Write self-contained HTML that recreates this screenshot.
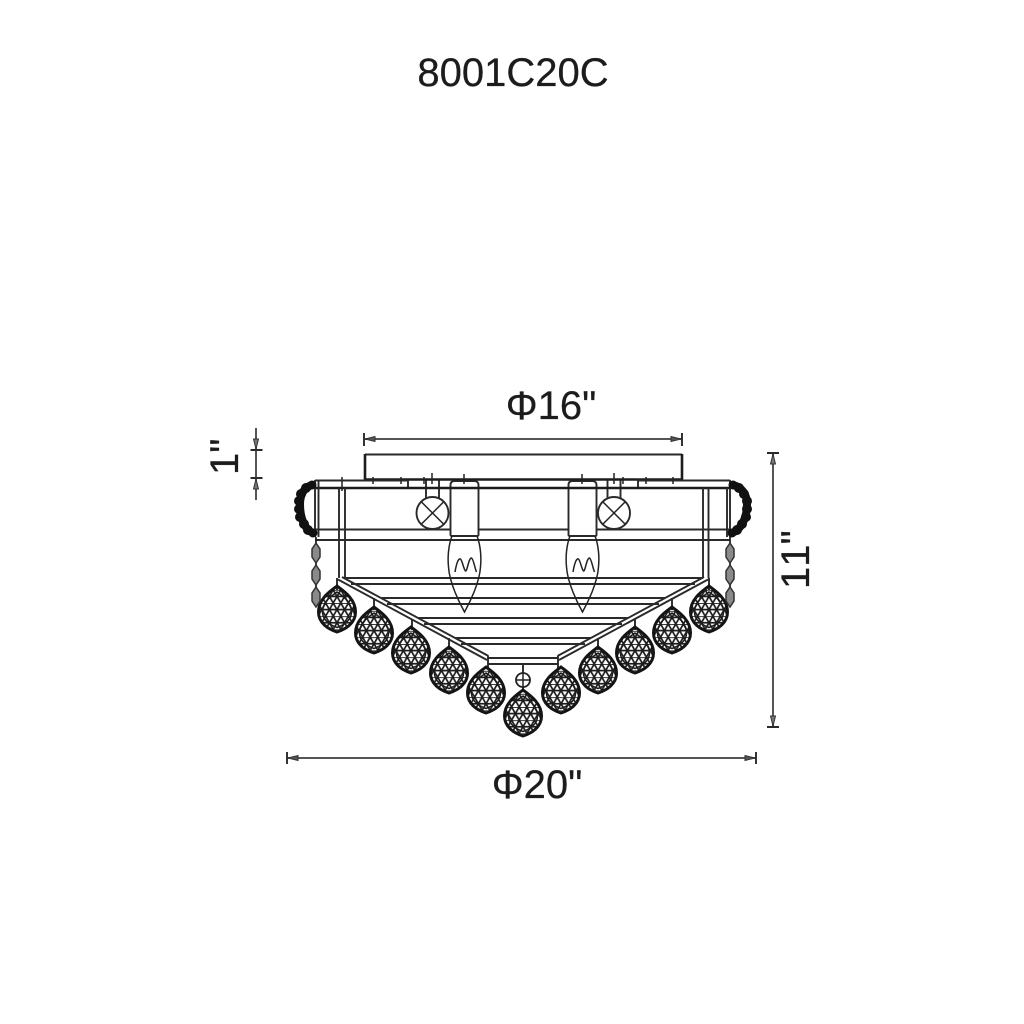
<!DOCTYPE html>
<html><head><meta charset="utf-8"><style>
html,body{margin:0;padding:0;background:#fff}
svg{display:block}
text{font-family:"Liberation Sans",sans-serif;font-size:40px;fill:#1c1c1c;font-kerning:none;stroke:#1c1c1c;stroke-width:.25}
.l{stroke:#2a2a2a;stroke-width:1.9;fill:none}
.t{stroke:#1c1c1c;stroke-width:2.600;fill:none}
.d{stroke:#555;stroke-width:2;fill:none}
.k{stroke:#222;stroke-width:1.500;fill:none}
</style></head><body>
<svg width="1024" height="1024" viewBox="0 0 1024 1024" xmlns="http://www.w3.org/2000/svg">
<defs>
<pattern id="mesh" patternUnits="userSpaceOnUse" width="7.600" height="13.164" x="-3.800" y="-6">
<path d="M0 0H7.600M0 6.582H7.600M0 0L7.600 13.164M7.600 0L0 13.164" stroke="#1c1c1c" stroke-width="1.700" fill="none"/>
</pattern>
<g id="ball">
<path d="M0-23C5-19 18.500-11 18.500 3C18.500 14 9 20 0 23C-9 20-18.500 14-18.500 3C-18.500-11-5-19 0-23Z" fill="url(#mesh)" stroke="#141414" stroke-width="3"/>
<path d="M0-17C4-14 14.500-8 14.500 3C14.500 11 7 16 0 18.500C-7 16-14.500 11-14.500 3C-14.500-8-4-14 0-17Z" fill="none" stroke="#1c1c1c" stroke-width="1.500"/>
</g>
<g id="dia"><path d="M0-10L4-4V4L0 10L-4 4V-4Z" fill="#8a8a8a" stroke="#333" stroke-width="1.500"/></g>
<g id="lamp">
<circle cx="0" cy="0" r="16" class="l"/>
<path d="M-11-11L11 11M11-11L-11 11" class="k"/>
<path d="M-6.500-33V-15M6.500-33V-15" class="l"/>
</g>
<g id="bulb">
<path d="M-14 0V-50Q-14-54-10-54H10Q14-54 14-50V0Q14 1 12 1H-12Q-14 1-14 0Z" class="l"/>
<path d="M-12.500 1C-16 10-17 22-16 32C-15 48-5 68 0 77C5 68 15 48 16 32C17 22 16 10 12.500 1" class="k"/>
<path d="M-9.500 37C-8 28-6 23-4 24C-2 26-1 34 1 36C3 36 4 23 7 23C9 24 10 32 12 37" class="k"/>
</g>
</defs>

<g style="filter:blur(0.35px)">
<text x="513" y="86" text-anchor="middle">8001C20C</text>
<text x="551" y="419" text-anchor="middle">Φ16"</text>
<text x="537" y="798" text-anchor="middle">Φ20"</text>
<text transform="translate(238,475) rotate(-90)">1"</text>
<text transform="translate(809,589) rotate(-90)">11"</text>

<!-- dimensions -->
<path d="M364 439H682" class="d"/>
<path d="M364 433V446M682 433V446" class="l"/>
<path d="M365 439L375 436.500V441.500Z M681 439L671 436.500V441.500Z" fill="#555" stroke="#333" stroke-width="1"/>
<path d="M256 428V500" class="d"/>
<path d="M250.500 450H262.500M250.500 478H262.500" class="l"/>
<path d="M256 449L253.500 439H258.500Z M256 479L253.500 489H258.500Z" fill="#777" stroke="#333" stroke-width="1"/>
<path d="M773 453V727" class="d"/>
<path d="M767 453H779M767 727H779" class="l"/>
<path d="M773 454L770.500 464H775.500Z M773 726L770.500 716H775.500Z" fill="#777" stroke="#333" stroke-width="1"/>
<path d="M287 758H756" class="d"/>
<path d="M287 752V764M756 752V764" class="l"/>
<path d="M288 758L298 755.500V760.500Z M755 758L745 755.500V760.500Z" fill="#555" stroke="#333" stroke-width="1"/>

<!-- horizontal rings -->
<path d="M315 529.500H730M315 540H730" class="l"/>
<path d="M345 578H703M351 584H695" class="l"/>
<path d="M381 598H665M387 604H659" class="l"/>
<path d="M418 618H628M424 624H622" class="l"/>
<path d="M455 638H591M461 644H585" class="l"/>
<path d="M488 658H558M488 664H558" class="l"/>

<!-- lamps and bulbs -->
<use href="#lamp" x="432.500" y="513"/>
<use href="#lamp" x="614" y="513"/>
<rect x="451" y="481" width="27" height="54" fill="#fff" stroke="none"/>
<rect x="569" y="481" width="27" height="54" fill="#fff" stroke="none"/>
<use href="#bulb" x="464.500" y="535"/>
<use href="#bulb" x="582.500" y="535"/>

<!-- canopy and rim -->
<path d="M365 454.500H682" class="l"/>
<path d="M365 454V480M682 454V480" class="t"/>
<path d="M365 479.500H682" class="t"/>
<path d="M315 480.500H408V488M730 480.500H638V488" class="l"/>
<path d="M315 488H730" class="t"/>
<path d="M315 480V537M318.500 480V537M730 480V537M727 488V537" class="l"/>
<path d="M339 488V578M345 488V578M703 488V578M708.500 488V578" class="l"/>
<path d="M342 477V491M373 477V484M401 477V484M424 477V484M432 473V484M464 474V484M582 474V484M614 473V484M623 477V484M646 477V484M673 477V484" class="k"/>

<!-- arms -->
<path d="M342 577L488.500 656M338 579.500L487 660" class="l"/>
<path d="M337 578V585M488 656V668" class="l"/>
<path d="M704 577L557.500 656M708 579.500L559 660" class="l"/>
<path d="M709 578V585M558 656V668" class="l"/>
<path d="M374 598V610M412 619V630M449 638V650M598 638V650M635 619V630M672 598V610M337 584V590M709 584V590M523 665V690" class="l"/>

<!-- crystal balls -->
<use href="#ball" x="337" y="609"/>
<use href="#ball" x="374" y="630"/>
<use href="#ball" x="411" y="650"/>
<use href="#ball" x="449" y="670"/>
<use href="#ball" x="486" y="690"/>
<use href="#ball" x="523" y="713"/>
<use href="#ball" x="561" y="690"/>
<use href="#ball" x="598" y="670"/>
<use href="#ball" x="635" y="650"/>
<use href="#ball" x="672" y="630"/>
<use href="#ball" x="709" y="609"/>
<circle cx="523" cy="680" r="7" fill="#fff" stroke="#222" stroke-width="1.800"/>
<path d="M523 673V687M516 680H530" class="k"/>

<!-- side chains -->
<path d="M313 485C305 486 300 494 300 504C300 517 304 529 313 533" fill="none" stroke="#111" stroke-width="8"/>
<path d="M732 485C741 486 747 494 747 504C747 517 742 529 732 533" fill="none" stroke="#111" stroke-width="8"/>
<g fill="#111">
<circle cx="312" cy="485" r="4.500"/><circle cx="306" cy="488" r="5"/><circle cx="301" cy="494" r="5"/><circle cx="299" cy="501" r="5"/><circle cx="299" cy="509" r="5"/><circle cx="300" cy="517" r="5"/><circle cx="304" cy="524" r="5"/><circle cx="308" cy="530" r="5"/><circle cx="313" cy="533" r="4.500"/>
<circle cx="733" cy="485" r="4.500"/><circle cx="739" cy="488" r="5"/><circle cx="744" cy="494" r="5"/><circle cx="747" cy="501" r="5"/><circle cx="747" cy="509" r="5"/><circle cx="746" cy="517" r="5"/><circle cx="742" cy="524" r="5"/><circle cx="737" cy="530" r="5"/><circle cx="732" cy="533" r="4.500"/>
</g>
<path d="M316 537V605M730 537V605" stroke="#222" stroke-width="1.800"/>
<use href="#dia" x="316" y="553"/>
<use href="#dia" x="316" y="575"/>
<use href="#dia" x="316" y="597"/>
<use href="#dia" x="730" y="553"/>
<use href="#dia" x="730" y="575"/>
<use href="#dia" x="730" y="597"/>
</g>
</svg>
</body></html>
